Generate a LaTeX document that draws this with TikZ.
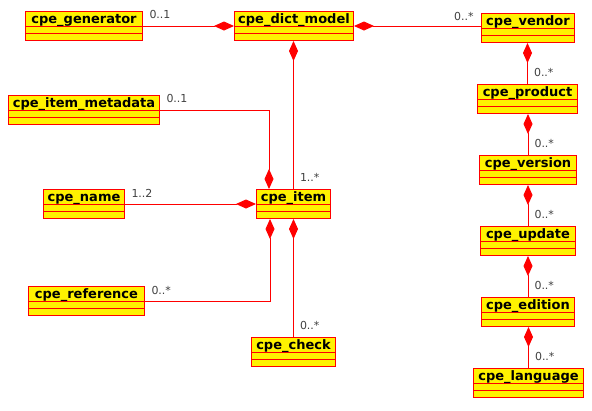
\documentclass[tikz,border=0pt]{standalone}
\usepackage{fontspec}
\setmainfont{DejaVu Sans}
\usetikzlibrary{arrows.meta,positioning}
\tikzset{
    class color/.style={red},
    class box/.style={draw=red, fill=yellow, line width=1pt, anchor=north west,
        minimum height=29pt, inner ysep=0pt, text height=11.5pt, text depth=17.5pt,
        font=\fontsize{13}{14}\selectfont\bfseries,
        path picture={\draw[class color, line width=1pt]
            ([yshift=-15pt]path picture bounding box.north west) -- ([yshift=-15pt]path picture bounding box.north east)
            ([yshift=-22pt]path picture bounding box.north west) -- ([yshift=-22pt]path picture bounding box.north east);}},
    comp/.style={-{Diamond[length=20pt,width=9pt]}, class color, line width=1pt},
    mult/.style={anchor=base west, xshift=6pt, yshift=7.5pt, inner sep=0pt,
        text=black!75, font=\fontsize{11}{12}\selectfont},
}

\begin{document}
\begin{tikzpicture}[x=1pt,y=-1pt]
    \useasboundingbox (0,0) rectangle (592,410);
    % classes
    \node[class box, minimum width=117pt] (gen) at (25,11) {cpe\_generator};
    \node[class box, minimum width=119pt] (dict) at (234,11) {cpe\_dict\_model};
    \node[class box, minimum width=93pt] (vendor) at (481,13) {cpe\_vendor};
    \node[class box, minimum width=100pt] (product) at (477,84) {cpe\_product};
    \node[class box, minimum width=97pt] (version) at (479,155) {cpe\_version};
    \node[class box, minimum width=95pt] (update) at (480,226) {cpe\_update};
    \node[class box, minimum width=93pt] (edition) at (481,297) {cpe\_edition};
    \node[class box, minimum width=110pt] (language) at (473,368) {cpe\_language};
    \node[class box, minimum width=151pt] (meta) at (8,95) {cpe\_item\_metadata};
    \node[class box, minimum width=81pt] (name) at (43,189) {cpe\_name};
    \node[class box, minimum width=74pt] (item) at (256,189) {cpe\_item};
    \node[class box, minimum width=116pt] (ref) at (28,286) {cpe\_reference};
    \node[class box, minimum width=84pt] (check) at (251,337) {cpe\_check};
    % compositions
    \draw[comp] (gen.east) node[mult] (m-gen) {0..1} -- (gen.east -| dict.west);
    \draw[comp] (vendor.west |- dict.east) node[mult, anchor=base east, xshift=-13pt, yshift=-1.5pt] (m-vendor) {0..*} -- (dict.east);
    \draw[comp] (item.north) node[mult] (m-item) {1..*} -- (item.north |- dict.south);
    \draw[comp] (meta.east) node[mult, yshift=0.5pt] (m-meta) {0..1} -| ([xshift=13pt]item.north west);
    \draw[comp] (name.east) node[mult, yshift=-1pt] (m-name) {1..2} -- (name.east -| item.west);
    \draw[comp] (ref.east) node[mult, yshift=-1pt] (m-ref) {0..*} -| ([xshift=14pt]item.south west);
    \draw[comp] (check.north) node[mult, yshift=0.5pt] (m-check) {0..*} -- (check.north |- item.south);
    \draw[comp] (product.north) node[mult] (m-product) {0..*} -- (product.north |- vendor.south);
    \draw[comp] (version.north) node[mult] (m-version) {0..*} -- (version.north |- product.south);
    \draw[comp] (update.north) node[mult] (m-update) {0..*} -- (update.north |- version.south);
    \draw[comp] (edition.north) node[mult] (m-edition) {0..*} -- (edition.north |- update.south);
    \draw[comp] (language.north) node[mult] (m-language) {0..*} -- (language.north |- edition.south);
\end{tikzpicture}
\end{document}
